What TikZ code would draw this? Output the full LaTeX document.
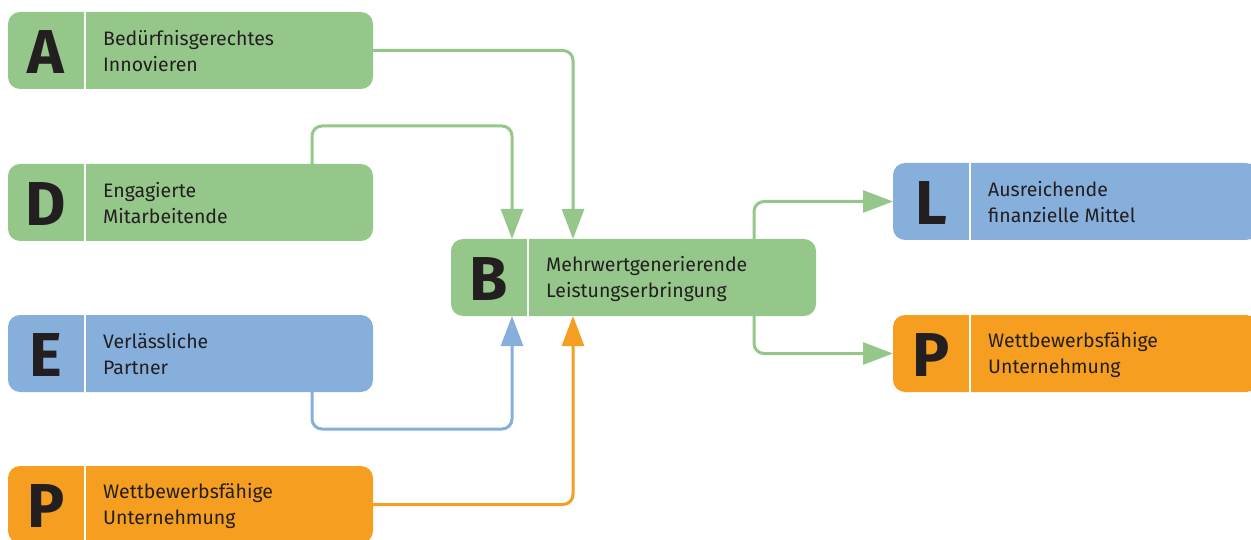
\documentclass[tikz,border=0pt]{standalone}
\usepackage{fontspec}
\setmainfont{Fira Sans}
\usetikzlibrary{arrows.meta}
\definecolor{grn}{HTML}{95C78A}
\definecolor{blu}{HTML}{86AFDC}
\definecolor{org}{HTML}{F59E1F}
\definecolor{ink}{HTML}{231F20}
\tikzset{
  box/.style={rounded corners=12pt, minimum width=365pt, minimum height=77pt,
    anchor=north west, inner sep=0pt, outer sep=0pt},
  letter/.style={font=\fontsize{62}{62}\selectfont\bfseries, text=ink, inner sep=0pt},
  label/.style={font=\fontsize{19.5}{26}\selectfont, text=ink, align=left,
    anchor=west, inner sep=0pt},
  divider/.style={white, line width=2pt},
  conn/.style={line width=3pt, rounded corners=10pt,
    -{Triangle[width=22pt,length=30pt]}},
}
\begin{document}
\begin{tikzpicture}[x=1pt,y=-1pt]
\useasboundingbox (0,0) rectangle (1251,540);

% boxes: name, colour, position, letter, text
\foreach \n/\c/\x/\y/\l/\t in {
  A/grn/8/12/A/{Bedürfnisgerechtes\\Innovieren},
  D/grn/8/164/D/{Engagierte\\Mitarbeitende},
  E/blu/8/315/E/{Verlässliche\\Partner},
  P1/org/8/466/P/{Wettbewerbsfähige\\Unternehmung},
  B/grn/451/239/B/{Mehrwertgenerierende\\Leistungserbringung},
  L/blu/893/163/L/{Ausreichende\\finanzielle Mittel},
  P2/org/893/315/P/{Wettbewerbsfähige\\Unternehmung}}{
  \node[box, fill=\c] (\n) at (\x,\y) {};
  \draw[divider] ([xshift=77pt]\n.north west) -- ([xshift=77pt]\n.south west);
  \node[letter] (\n-l) at ([xshift=38pt,yshift=-2pt]\n.west) {\l};
  \node[label] (\n-t) at ([xshift=95pt,yshift=-1pt]\n.west) {\t};
}

% inputs into B
\draw[conn, grn] (A.east) -| ([xshift=122pt]B.north west);
\draw[conn, grn] ([xshift=304pt]D.north west) -- ++(0,-38) -| ([xshift=61pt]B.north west);
\draw[conn, blu] ([xshift=304pt]E.south west) -- ++(0,37) -| ([xshift=61pt]B.south west);
\draw[conn, org] (P1.east) -| ([xshift=122pt]B.south west);

% outputs of B
\draw[conn, grn] ([xshift=303pt]B.north west) |- (L.west);
\draw[conn, grn] ([xshift=303pt]B.south west) |- (P2.west);
\end{tikzpicture}
\end{document}
